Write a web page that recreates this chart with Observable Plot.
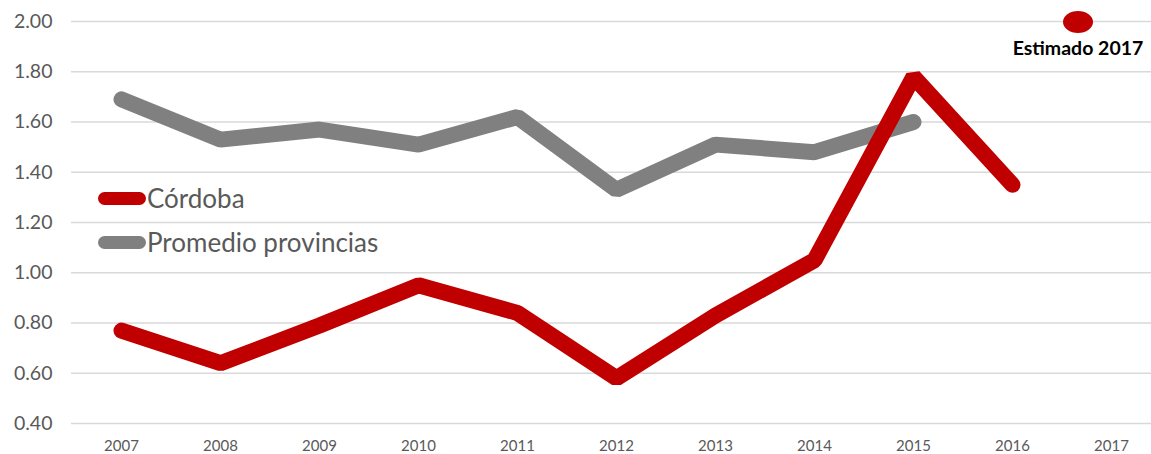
<!DOCTYPE html>
<html>
<head>
<meta charset="utf-8">
<script src="https://cdn.jsdelivr.net/npm/d3@7"></script>
<script src="https://cdn.jsdelivr.net/npm/@observablehq/plot@0.6"></script>
<style>
  html, body { margin: 0; padding: 0; background: #fff; }
  #wrap { position: relative; width: 1151px; height: 454px; font-family: Lato, "Open Sans", sans-serif; }
  .leg { position: absolute; display: flex; align-items: center; color: #595959; font-size: 26px; white-space: nowrap; }
  .sw { width: 48px; height: 13px; border-radius: 6.5px; margin-right: 1px; }
  #est { position: absolute; left: 1000px; width: 156px; top: 11px; text-align: center; }
  #est .dot { width: 30px; height: 22px; border-radius: 50%; background: #C00000; margin: 0 auto; }
  #est .lab { font-weight: bold; font-size: 19.5px; color: #000; margin-top: 4px; line-height: 22px; }
</style>
</head>
<body>
<div id="wrap"></div>
<script>
const years = [2007, 2008, 2009, 2010, 2011, 2012, 2013, 2014, 2015, 2016];
const cordoba = [0.77, 0.64, 0.79, 0.95, 0.84, 0.58, 0.83, 1.05, 1.78, 1.35];
const promYears = [2007, 2008, 2009, 2010, 2011, 2012, 2013, 2014, 2015];
const promedio = [1.69, 1.53, 1.57, 1.51, 1.62, 1.33, 1.51, 1.48, 1.60];
const xTicks = [2007, 2008, 2009, 2010, 2011, 2012, 2013, 2014, 2015, 2016, 2017];
const yTicks = [0.4, 0.6, 0.8, 1.0, 1.2, 1.4, 1.6, 1.8, 2.0];
const seriesNames = ["Córdoba", "Promedio provincias"];
const seriesColors = ["#C00000", "#808080"];
const estimateLabel = "Estimado 2017";

const cordobaData = years.map((y, i) => ({year: y, value: cordoba[i]}));
const promData = promYears.map((y, i) => ({year: y, value: promedio[i]}));

const chart = Plot.plot({
  width: 1151,
  height: 454,
  marginLeft: 71,
  marginRight: 0,
  marginTop: 21,
  marginBottom: 31,
  style: {fontFamily: "Lato, 'Open Sans', sans-serif", background: "#fff", overflow: "visible"},
  x: {type: "linear", domain: [2006.5, 2017.5], range: [71.5, 1160.5]},
  y: {domain: [0.4, 2.0]},
  marks: [
    Plot.gridY(yTicks, {stroke: "#d9d9d9", strokeOpacity: 1, strokeWidth: 1.5}),
    Plot.axisY(yTicks, {tickSize: 0, tickPadding: 19, tickFormat: d3.format(".2f"), fontSize: 19.5, fill: "#595959", label: null}),
    Plot.axisX(xTicks, {tickSize: 0, tickPadding: 17, tickFormat: d => String(d), fontSize: 15, fill: "#595959", label: null}),
    Plot.line(promData, {x: "year", y: "value", stroke: seriesColors[1], strokeWidth: 16, strokeLinecap: "round", strokeLinejoin: "miter"}),
    Plot.line(cordobaData, {x: "year", y: "value", stroke: seriesColors[0], strokeWidth: 16, strokeLinecap: "round", strokeLinejoin: "miter"})
  ]
});

const wrap = document.getElementById("wrap");
wrap.appendChild(chart);

const legendTops = [198, 242];
seriesNames.forEach((name, i) => {
  const d = document.createElement("div");
  d.className = "leg";
  d.style.left = "98px";
  d.style.top = (legendTops[i] - 16) + "px";
  d.style.height = "32px";
  const sw = document.createElement("div");
  sw.className = "sw";
  sw.style.background = seriesColors[i];
  const t = document.createElement("span");
  t.textContent = name;
  d.appendChild(sw);
  d.appendChild(t);
  wrap.appendChild(d);
});

const est = document.createElement("div");
est.id = "est";
est.innerHTML = '<div class="dot"></div><div class="lab"></div>';
est.querySelector(".lab").textContent = estimateLabel;
wrap.appendChild(est);
</script>
</body>
</html>
